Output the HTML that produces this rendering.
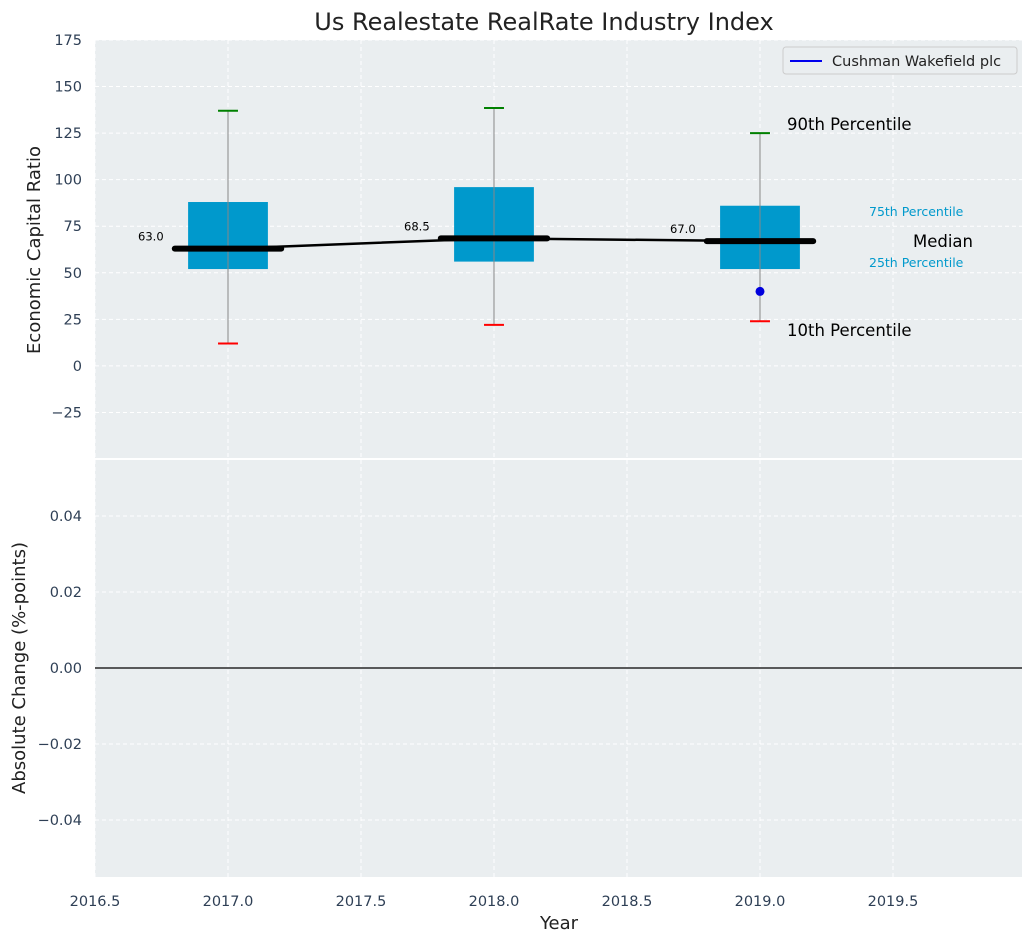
<!DOCTYPE html>
<html><head><meta charset="utf-8"><style>
body{margin:0;background:#fff;font-family:"Liberation Sans","DejaVu Sans",sans-serif}
svg text{font-family:"DejaVu Sans","Liberation Sans",sans-serif}
</style></head><body>
<svg id="c" width="1034" height="942" xmlns="http://www.w3.org/2000/svg"></svg>
<script>
const years=[2017,2018,2019];
const p10=[12,22,24];
const q1=[52,56,52];
const med=[63,68.5,67];
const q3=[88,96,86];
const p90=[137,138.5,125];
const companyYears=[2019];
const companyVals=[40];
const topTicks=[-25,0,25,50,75,100,125,150,175];
const botTicks=[-0.04,-0.02,0,0.02,0.04];
const xTicks=[2016.5,2017,2017.5,2018,2018.5,2019,2019.5];

const svg=document.getElementById('c');
const NS='http://www.w3.org/2000/svg';
function el(t,a,txt){const e=document.createElementNS(NS,t);for(const k in a)e.setAttribute(k,a[k]);if(txt!==undefined)e.textContent=txt;svg.appendChild(e);return e;}
const L=95,R=1022,T1=40,B1=459,T2=459,B2=877;
const x=v=>L+(v-2016.5)*(R-L)/(2019.985-2016.5);
const y1=v=>B1-(v+50)*(B1-T1)/225;
const y2=v=>B2-(v+0.055)*(B2-T2)/0.11;

let e;
e=el('rect',{x:L,y:T1,width:R-L,height:B1-T1,fill:'#eaeef0'});

e=el('rect',{x:L,y:T2,width:R-L,height:B2-T2,fill:'#eaeef0'});

el('line',{x1:L,x2:R,y1:459,y2:459,stroke:'#fff','stroke-width':2});

xTicks.forEach(t=>{
 e=el('line',{x1:x(t),x2:x(t),y1:T1,y2:B2,stroke:'#fff','stroke-dasharray':'4,3','stroke-width':1});
 e=el('text',{x:x(t),y:906,'text-anchor':'middle','font-size':14.5,fill:'#2e3f55'},t.toFixed(1));
 
});
topTicks.forEach(t=>{
 el('line',{x1:L,x2:R,y1:y1(t),y2:y1(t),stroke:'#fff','stroke-dasharray':'4,3'});
 e=el('text',{x:82,y:y1(t)+5,'text-anchor':'end','font-size':14.5,fill:'#2e3f55'},t<0?'\u2212'+(-t):t);
 
});
botTicks.forEach(t=>{
 el('line',{x1:L,x2:R,y1:y2(t),y2:y2(t),stroke:'#fff','stroke-dasharray':'4,3'});
 const s=(t<0?'\u2212':'')+Math.abs(t).toFixed(2);
 e=el('text',{x:82,y:y2(t)+5,'text-anchor':'end','font-size':14.5,fill:'#2e3f55'},s);
 
});
e=el('line',{x1:L,x2:R,y1:y2(0),y2:y2(0),stroke:'#000','stroke-width':1.2});


years.forEach((yr,i)=>{
 const cx=x(yr),hw=x(yr+0.15)-cx,mw=x(yr+0.2)-cx,cw=x(yr+0.025)-cx;
 e=el('line',{x1:cx,x2:cx,y1:y1(p90[i]),y2:y1(p10[i]),stroke:'#888','stroke-width':1});
 
 e=el('rect',{x:cx-hw,y:y1(q3[i]),width:2*hw,height:y1(q1[i])-y1(q3[i]),fill:'#0099cc'});
 
 el('line',{x1:cx,x2:cx,y1:y1(q3[i]),y2:y1(q1[i]),stroke:'#888','stroke-width':1});
 e=el('line',{x1:cx-cw*1.5,x2:cx+cw*1.5,y1:y1(p90[i]),y2:y1(p90[i]),stroke:'green','stroke-width':2});
 
 e=el('line',{x1:cx-cw*1.5,x2:cx+cw*1.5,y1:y1(p10[i]),y2:y1(p10[i]),stroke:'red','stroke-width':2});
 
 e=el('line',{x1:cx-mw,x2:cx+mw,y1:y1(med[i]),y2:y1(med[i]),stroke:'#000','stroke-width':6,'stroke-linecap':'round'});
 
 e=el('text',{x:x(yr-0.29),y:y1(med[i])-8,'text-anchor':'middle','font-size':11.5,fill:'#000'},med[i].toFixed(1));
 
});
e=el('polyline',{points:years.map((yr,i)=>x(yr)+','+y1(med[i])).join(' '),fill:'none',stroke:'#000','stroke-width':2.5});

companyYears.forEach((yr,i)=>{
 e=el('circle',{cx:x(yr),cy:y1(companyVals[i]),r:4.5,fill:'#0000dd'});
 
});
[['90th Percentile',130,16.5,'#000',787,'start'],['10th Percentile',336,16.5,'#000',787,'start'],
 ['75th Percentile',216,12.5,'#0099cc',869,'start'],['25th Percentile',267,12.5,'#0099cc',869,'start'],
 ['Median',247,16.5,'#000',973,'end']].forEach(a=>{
 e=el('text',{x:a[4],y:a[1],'font-size':a[2],fill:a[3],'text-anchor':a[5]},a[0]);
 
});
e=el('rect',{x:783,y:47,width:234,height:27,fill:'#eaeef0',stroke:'#ccc',rx:3});

el('line',{x1:790,x2:822,y1:61,y2:61,stroke:'#0000ee','stroke-width':2});
e=el('text',{x:832,y:66,'font-size':14.5,fill:'#222'},'Cushman Wakefield plc');

e=el('text',{x:544,y:30,'text-anchor':'middle','font-size':24,fill:'#222'},'Us Realestate RealRate Industry Index');

e=el('text',{x:559,y:929,'text-anchor':'middle','font-size':18,fill:'#222'},'Year');

e=el('text',{x:0,y:0,'text-anchor':'middle','font-size':18,fill:'#222',transform:'translate(40,250) rotate(-90)'},'Economic Capital Ratio');

e=el('text',{x:0,y:0,'text-anchor':'middle','font-size':18,fill:'#222',transform:'translate(25,668) rotate(-90)'},'Absolute Change (%-points)');

</script>
</body></html>
